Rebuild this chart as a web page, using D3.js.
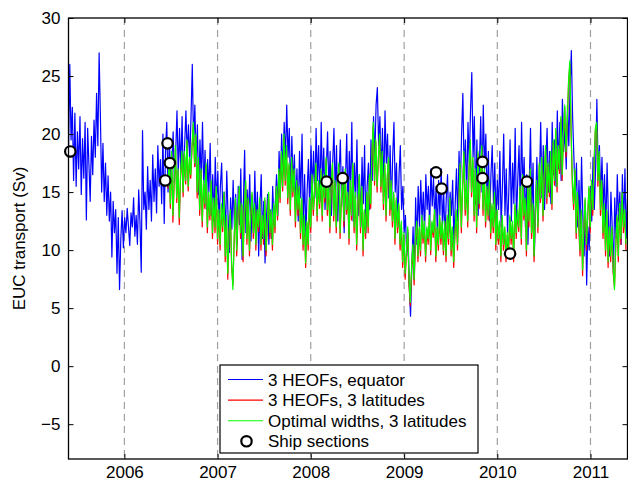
<!DOCTYPE html>
<html>
<head>
<meta charset="utf-8">
<script src="https://cdn.jsdelivr.net/npm/d3@7"></script>
<style>
  body { margin: 0; background: #fff; }
  svg { display: block; font-family: "Liberation Sans", Arial, Helvetica, sans-serif; }
  .tick text { font-size: 17px; fill: #000; }
  .tick line { stroke: #000; }
</style>
</head>
<body>
<div id="chart"></div>
<script>
var stepDays = 5;
var blueStart = new Date(2005, 4, 27);
var greenStart = new Date(2006, 5, 20);

var blueValues = [
  18.5, 26.0, 19.5, 22.3, 16.0, 21.8, 15.5, 20.2, 17.0, 21.5, 14.8, 19.6,
  16.2, 21.0, 12.6, 20.5, 17.4, 14.2, 19.8, 16.5, 21.2, 18.0, 23.5, 19.0,
  27.0, 21.5, 15.0, 19.2, 14.2, 17.5, 13.0, 16.4, 12.5, 15.0, 9.4, 14.2,
  11.5, 13.5, 8.0, 12.8, 6.6, 11.0, 13.4, 10.2, 12.8, 11.5, 13.6, 12.0,
  10.4, 13.2, 12.0, 14.5, 11.2, 13.0, 10.5, 15.2, 12.4, 8.1, 20.3, 13.5,
  15.0, 11.8, 17.2, 13.5, 16.0, 12.5, 18.2, 14.2, 17.0, 13.2, 19.0, 15.5,
  17.8, 14.0, 20.0, 12.3, 18.5, 21.0, 15.0, 19.6, 16.2, 17.5, 20.2, 15.8,
  18.4, 22.0, 16.5, 20.5, 17.0, 21.5, 15.6, 19.0, 22.0, 18.2, 20.8, 17.5,
  21.5, 26.0, 19.0, 22.5, 17.2, 20.8, 14.8, 19.5, 16.0, 21.0, 15.2, 18.6,
  13.5, 17.8, 15.0, 19.2, 13.0, 16.5, 12.5, 18.0, 14.0, 16.8, 12.2, 15.5,
  17.5, 12.5, 15.0, 11.2, 16.8, 13.0, 9.8, 14.5, 11.8, 16.0, 12.0, 14.8,
  10.5, 15.5, 12.2, 17.0, 9.2, 14.0, 18.6, 11.5, 15.2, 12.8, 16.5, 10.8,
  14.5, 11.5, 16.8, 12.0, 15.0, 9.5, 13.8, 16.5, 11.0, 14.2, 8.9, 12.5,
  14.8, 10.5, 13.5, 11.0, 15.5, 12.2, 14.0, 16.5, 13.0, 18.5, 15.0, 20.0,
  16.5, 21.0, 17.8, 22.5, 18.0, 20.5, 14.5, 19.8, 15.5, 18.2, 13.5, 17.0,
  12.5, 18.5, 14.5, 20.0, 12.0, 16.5, 11.2, 15.2, 17.8, 13.5, 19.0, 15.2,
  18.5, 14.5, 20.5, 16.0, 19.0, 14.2, 21.0, 15.5, 18.8, 13.5, 17.0, 20.2,
  15.0, 18.5, 13.0, 17.5, 20.5, 14.8, 19.0, 12.5, 16.5, 19.5, 13.8, 17.2,
  11.5, 16.0, 20.0, 13.5, 18.5, 15.0, 21.0, 12.5, 17.5, 14.5, 19.5, 13.0,
  16.5, 12.0, 18.0, 14.0, 19.0, 11.5, 15.5, 17.5, 13.5, 19.5, 16.0, 21.5,
  18.0, 22.5, 24.0, 19.0, 21.5, 16.5, 20.5, 15.0, 22.0, 17.5, 20.0, 14.5,
  19.0, 13.5, 18.0, 21.0, 15.0, 17.5, 12.0, 16.5, 19.0, 13.5, 15.5, 11.5,
  13.0, 9.5, 11.5, 7.0, 4.3, 8.5, 12.0, 7.5, 14.5, 10.5, 15.5, 12.0,
  16.0, 12.5, 15.0, 11.5, 16.5, 13.5, 15.5, 12.0, 17.0, 13.8, 16.2, 12.5,
  15.5, 11.5, 16.0, 13.0, 17.0, 12.0, 15.0, 10.8, 14.5, 16.5, 11.5, 15.0,
  13.0, 16.0, 10.5, 14.0, 17.0, 12.5, 18.5, 15.0, 20.0, 23.5, 16.5, 19.5,
  14.5, 21.0, 17.5, 22.0, 25.3, 18.0, 21.5, 14.0, 19.5, 13.0, 17.5, 21.5,
  15.0, 22.5, 17.0, 20.0, 13.5, 18.5, 12.5, 16.5, 19.0, 14.0, 17.5, 12.5,
  16.0, 13.5, 18.5, 12.0, 15.5, 20.0, 13.0, 17.0, 11.5, 15.0, 19.5, 12.5,
  17.5, 14.0, 20.5, 12.5, 16.0, 19.0, 13.5, 21.0, 15.0, 18.0, 12.0, 16.5,
  10.5, 15.5, 20.5, 13.0, 17.5, 9.5, 14.0, 18.0, 12.5, 16.0, 21.0, 14.5,
  19.0, 13.5, 17.5, 20.5, 15.0, 18.5, 14.0, 21.0, 16.5, 19.5, 15.5, 22.0,
  17.0, 21.0, 16.0, 23.0, 18.5, 20.5, 17.0, 22.5, 19.0, 24.0, 27.2, 21.5,
  18.0, 14.5, 17.5, 12.0, 16.0, 11.5, 18.0, 13.0, 9.5, 14.0, 7.0, 12.0,
  10.0, 15.5, 12.5, 18.0, 13.5, 17.0, 23.0, 16.5, 19.0, 14.5, 18.0, 13.5,
  16.5, 11.5, 17.5, 13.0, 9.5, 15.0, 12.0, 8.0, 14.5, 11.0, 16.5, 12.5,
  15.0, 10.5, 16.5, 12.0, 17.0, 11.0, 14.5
];

var redValues = [
  15.3, 17.4, 13.6, 18.3, 12.4, 15.8, 18.8, 14.1, 16.8, 12.2, 16.3, 18.2,
  14.6, 18.3, 15.7, 19.4, 15.1, 17.8, 16.2, 18.9, 20.8, 17.2, 19.8, 14.5,
  17.8, 13.0, 16.8, 12.0, 15.8, 13.6, 17.3, 11.5, 14.8, 12.6, 15.8, 11.0,
  14.3, 11.5, 15.3, 10.5, 13.3, 10.0, 13.8, 11.6, 14.8, 9.0, 12.8, 7.5,
  11.3, 13.3, 8.6, 7.0, 10.7, 14.3, 9.5, 12.8, 15.3, 11.0, 13.8, 9.0,
  13.3, 15.8, 10.5, 14.3, 9.5, 12.8, 14.8, 11.0, 13.8, 10.0, 13.3, 11.6,
  14.3, 10.0, 12.8, 10.5, 14.3, 9.5, 12.3, 14.8, 11.0, 13.3, 10.0, 13.8,
  11.5, 15.3, 12.6, 16.8, 14.1, 18.3, 15.1, 19.7, 15.6, 18.8, 14.0, 17.3,
  13.0, 17.8, 14.6, 16.8, 12.0, 15.8, 13.0, 15.3, 11.0, 14.3, 10.0, 12.8,
  8.5, 12.3, 10.0, 14.3, 11.5, 16.3, 13.0, 14.8, 17.3, 12.5, 15.8, 13.6,
  16.8, 12.5, 16.3, 14.1, 17.8, 13.0, 15.8, 11.5, 15.3, 17.3, 12.5, 15.8,
  11.5, 15.3, 17.3, 11.0, 14.3, 16.3, 12.0, 16.8, 13.1, 14.8, 10.5, 15.8,
  12.6, 17.3, 11.5, 14.8, 10.0, 13.8, 16.3, 11.5, 15.3, 9.5, 13.3, 11.0,
  14.8, 11.5, 16.3, 13.6, 18.3, 20.7, 15.6, 19.3, 15.0, 17.8, 19.8, 15.0,
  18.3, 13.5, 17.3, 12.5, 16.3, 17.8, 13.0, 15.8, 12.0, 14.8, 10.5, 14.3,
  11.5, 13.8, 10.0, 12.3, 8.5, 11.3, 7.5, 9.8, 11.8, 7.0, 5.2, 8.2,
  10.3, 7.0, 10.8, 12.3, 9.0, 11.8, 9.5, 12.8, 10.6, 12.3, 9.0, 11.8,
  10.5, 12.8, 9.6, 12.3, 11.1, 13.3, 9.0, 11.8, 10.0, 12.8, 10.5, 12.3,
  9.6, 12.3, 9.0, 12.8, 10.5, 14.3, 9.5, 11.8, 8.5, 11.3, 13.3, 10.0,
  13.8, 17.3, 11.5, 15.3, 18.3, 13.0, 15.8, 12.0, 16.8, 19.3, 14.6, 17.8,
  12.5, 16.8, 11.5, 18.3, 13.6, 16.3, 18.8, 13.0, 16.8, 12.0, 15.3, 12.6,
  15.8, 11.0, 13.8, 11.5, 14.8, 10.0, 13.3, 10.5, 12.3, 9.0, 12.8, 10.0,
  11.8, 9.0, 11.3, 9.5, 12.8, 10.5, 12.3, 9.0, 13.8, 11.0, 13.3, 11.6,
  15.3, 10.5, 16.3, 12.6, 14.3, 9.5, 15.3, 12.0, 16.8, 11.0, 13.8, 9.0,
  13.3, 15.8, 11.5, 17.3, 14.1, 17.8, 12.5, 16.3, 18.8, 14.0, 17.3, 14.6,
  18.3, 13.5, 19.3, 15.6, 20.3, 15.0, 18.8, 16.6, 21.3, 16.0, 19.8, 22.3,
  18.0, 20.8, 24.3, 26.0, 20.0, 15.6, 13.5, 16.8, 11.0, 14.8, 12.0, 9.5,
  13.3, 7.8, 11.8, 14.3, 10.0, 12.8, 15.3, 11.5, 15.8, 13.0, 17.3, 20.3,
  20.8, 15.5, 18.3, 13.0, 15.8, 11.0, 13.8, 9.5, 13.3, 8.5, 11.8, 9.0,
  11.8, 8.0, 6.8, 10.3, 12.8, 9.0, 13.8, 10.5, 14.8, 11.5, 13.3, 10.0
];

var greenValues = [
  15.5, 17.5, 14.0, 18.5, 13.0, 16.0, 19.0, 14.5, 17.0, 12.8, 16.5, 18.5,
  15.0, 18.5, 16.0, 19.5, 15.5, 18.0, 16.5, 19.0, 21.0, 17.5, 20.0, 15.0,
  18.0, 13.5, 17.0, 12.5, 16.0, 14.0, 17.5, 12.0, 15.0, 13.0, 16.0, 11.5,
  14.5, 12.0, 15.5, 11.0, 13.5, 10.5, 14.0, 12.0, 15.0, 9.5, 13.0, 8.0,
  11.5, 13.5, 9.0, 6.6, 11.0, 14.5, 10.0, 13.0, 15.5, 11.5, 14.0, 9.5,
  13.5, 16.0, 11.0, 14.5, 10.0, 13.0, 15.0, 11.5, 14.0, 10.5, 13.5, 12.0,
  14.5, 10.5, 13.0, 11.0, 14.5, 10.0, 12.5, 15.0, 11.5, 13.5, 10.5, 14.0,
  12.0, 15.5, 13.0, 17.0, 14.5, 18.5, 15.5, 20.0, 16.0, 19.0, 14.5, 17.5,
  13.5, 18.0, 15.0, 17.0, 12.5, 16.0, 13.5, 15.5, 11.5, 14.5, 10.5, 13.0,
  8.9, 12.5, 10.5, 14.5, 12.0, 16.5, 13.5, 15.0, 17.5, 13.0, 16.0, 14.0,
  17.0, 13.0, 16.5, 14.5, 18.0, 13.5, 16.0, 12.0, 15.5, 17.5, 13.0, 16.0,
  12.0, 15.5, 17.5, 11.5, 14.5, 16.5, 12.5, 17.0, 13.5, 15.0, 11.0, 16.0,
  13.0, 17.5, 12.0, 15.0, 10.5, 14.0, 16.5, 12.0, 15.5, 10.0, 13.5, 11.5,
  15.0, 12.0, 16.5, 14.0, 18.5, 21.0, 16.0, 19.5, 15.5, 18.0, 20.0, 15.5,
  18.5, 14.0, 17.5, 13.0, 16.5, 18.0, 13.5, 16.0, 12.5, 15.0, 11.0, 14.5,
  12.0, 14.0, 10.5, 12.5, 9.0, 11.5, 8.0, 10.0, 12.0, 7.5, 5.5, 8.5,
  10.5, 7.5, 11.0, 12.5, 9.5, 12.0, 10.0, 13.0, 11.0, 12.5, 9.5, 12.0,
  11.0, 13.0, 10.0, 12.5, 11.5, 13.5, 9.5, 12.0, 10.5, 13.0, 11.0, 12.5,
  10.0, 12.5, 9.5, 13.0, 11.0, 14.5, 10.0, 12.0, 9.0, 11.5, 13.5, 10.5,
  14.0, 17.5, 12.0, 15.5, 18.5, 13.5, 16.0, 12.5, 17.0, 19.5, 15.0, 18.0,
  13.0, 17.0, 12.0, 18.5, 14.0, 16.5, 19.0, 13.5, 17.0, 12.5, 15.5, 13.0,
  16.0, 11.5, 14.0, 12.0, 15.0, 10.5, 13.5, 11.0, 12.5, 9.5, 13.0, 10.5,
  12.0, 9.5, 11.5, 10.0, 13.0, 11.0, 12.5, 9.5, 14.0, 11.5, 13.5, 12.0,
  15.5, 11.0, 16.5, 13.0, 14.5, 10.0, 15.5, 12.5, 17.0, 11.5, 14.0, 9.5,
  13.5, 16.0, 12.0, 17.5, 14.5, 18.0, 13.0, 16.5, 19.0, 14.5, 17.5, 15.0,
  18.5, 14.0, 19.5, 16.0, 20.5, 15.5, 19.0, 17.0, 21.5, 16.5, 20.0, 22.5,
  18.5, 21.0, 24.5, 26.3, 20.5, 16.0, 14.0, 17.0, 11.5, 15.0, 12.5, 10.0,
  13.5, 8.3, 12.0, 14.5, 10.5, 13.0, 15.5, 12.0, 16.0, 13.5, 17.5, 20.5,
  21.0, 16.0, 18.5, 13.5, 16.0, 11.5, 14.0, 10.0, 13.5, 9.0, 12.0, 9.5,
  12.0, 8.5, 6.6, 10.5, 13.0, 9.5, 14.0, 11.0, 15.0, 12.0, 13.5, 10.5
];

// ship sections
var shipDates = ["2005-06-03", "2006-06-10", "2006-06-19", "2006-06-28", "2008-03-03", "2008-05-05",
                 "2009-05-06", "2009-05-28", "2009-11-04", "2009-11-04", "2010-02-20", "2010-04-27"];
var shipValues = [18.5, 16.0, 19.2, 17.5, 15.9, 16.2, 16.7, 15.3, 17.6, 16.2, 9.7, 15.9];

var yTicks = [-5, 0, 5, 10, 15, 20, 25, 30];
var yearTicks = [2006, 2007, 2008, 2009, 2010, 2011];

var legendLabels = ["3 HEOFs, equator", "3 HEOFs, 3 latitudes", "Optimal widths, 3 latitudes", "Ship sections"];

var W = 628, H = 482;
var margin = {top: 18, right: 0.5, bottom: 23, left: 68.5};
var width = W - margin.left - margin.right,
    height = H - margin.top - margin.bottom;

var parseDay = d3.timeParse("%Y-%m-%d");

function toSeries(vals, start) {
  return vals.map(function(v, i) {
    return {date: d3.timeDay.offset(start, i * stepDays), value: v};
  });
}

var blue = toSeries(blueValues, blueStart),
    red = toSeries(redValues, greenStart),
    green = toSeries(greenValues, greenStart);

var ships = shipDates.map(function(d, i) { return {date: parseDay(d), value: shipValues[i]}; });

var svg = d3.select("#chart").append("svg")
    .attr("width", W)
    .attr("height", H);

var g = svg.append("g")
    .attr("transform", "translate(" + margin.left + "," + margin.top + ")");

var x = d3.scaleTime()
    .domain([new Date(2005, 4, 27), new Date(2011, 4, 26)])
    .range([0, width]);

var y = d3.scaleLinear()
    .domain([-8, 30])
    .range([height, 0]);

svg.append("defs").append("clipPath").attr("id", "clip")
  .append("rect").attr("width", width).attr("height", height);

// dashed year lines
g.selectAll(".grid")
    .data(yearTicks)
    .enter().append("line")
    .attr("class", "grid")
    .attr("x1", function(d) { return x(new Date(d, 0, 1)); })
    .attr("x2", function(d) { return x(new Date(d, 0, 1)); })
    .attr("y1", 0)
    .attr("y2", height)
    .attr("stroke", "#a0a0a0")
    .attr("stroke-width", 1.2)
    .attr("stroke-dasharray", "7,5");

var line = d3.line()
    .x(function(d) { return x(d.date); })
    .y(function(d) { return y(d.value); });

var lines = g.append("g").attr("clip-path", "url(#clip)");
[[blue, "#0000ff"], [red, "#ff0000"], [green, "#00ff00"]].forEach(function(s) {
  lines.append("path")
      .datum(s[0])
      .attr("fill", "none")
      .attr("stroke", s[1])
      .attr("stroke-width", 1.2)
      .attr("stroke-linejoin", "round")
      .attr("d", line);
});

g.selectAll(".ship")
    .data(ships)
    .enter().append("circle")
    .attr("class", "ship")
    .attr("cx", function(d) { return x(d.date); })
    .attr("cy", function(d) { return y(d.value); })
    .attr("r", 5.2)
    .attr("fill", "#fff")
    .attr("stroke", "#000")
    .attr("stroke-width", 2.2);

// axes, ticks pointing inwards like matlab
var yearDates = yearTicks.map(function(d) { return new Date(d, 0, 1); });

g.append("g")
    .attr("transform", "translate(0," + height + ")")
    .call(d3.axisBottom(x).tickValues(yearDates).tickSize(-5).tickPadding(7)
      .tickFormat(d3.timeFormat("%Y")));
g.append("g")
    .call(d3.axisTop(x).tickValues(yearDates).tickSize(-5).tickFormat(""));
g.append("g")
    .call(d3.axisLeft(y).tickValues(yTicks).tickSize(-5).tickPadding(8)
      .tickFormat(function(d) { return d < 0 ? "\u2212" + Math.abs(d) : d; }));
g.append("g")
    .attr("transform", "translate(" + width + ",0)")
    .call(d3.axisRight(y).tickValues(yTicks).tickSize(-5).tickFormat(""));

g.selectAll(".domain").remove();

g.append("rect")
    .attr("width", width)
    .attr("height", height)
    .attr("fill", "none")
    .attr("stroke", "#000")
    .attr("stroke-width", 1.3);

svg.append("text")
    .attr("transform", "translate(25," + (margin.top + height / 2) + ") rotate(-90)")
    .attr("text-anchor", "middle")
    .style("font-size", "17px")
    .text("EUC transport (Sv)");

// legend
var legend = svg.append("g").attr("transform", "translate(220,365)");
legend.append("rect")
    .attr("width", 258)
    .attr("height", 88)
    .attr("fill", "#fff")
    .attr("stroke", "#000")
    .attr("stroke-width", 1.2);

var legendColors = ["#0000ff", "#ff0000", "#00ff00", null];
legendLabels.forEach(function(lbl, i) {
  var cy = 14.5 + i * 20.6;
  if (legendColors[i]) {
    legend.append("line")
        .attr("x1", 8).attr("x2", 43)
        .attr("y1", cy).attr("y2", cy)
        .attr("stroke", legendColors[i])
        .attr("stroke-width", 1.1);
  } else {
    legend.append("circle")
        .attr("cx", 26.5).attr("cy", cy).attr("r", 5.2)
        .attr("fill", "#fff").attr("stroke", "#000").attr("stroke-width", 2.2);
  }
  legend.append("text")
      .attr("x", 48)
      .attr("y", cy + 6)
      .style("font-size", "17px")
      .text(lbl);
});
</script>
</body>
</html>
